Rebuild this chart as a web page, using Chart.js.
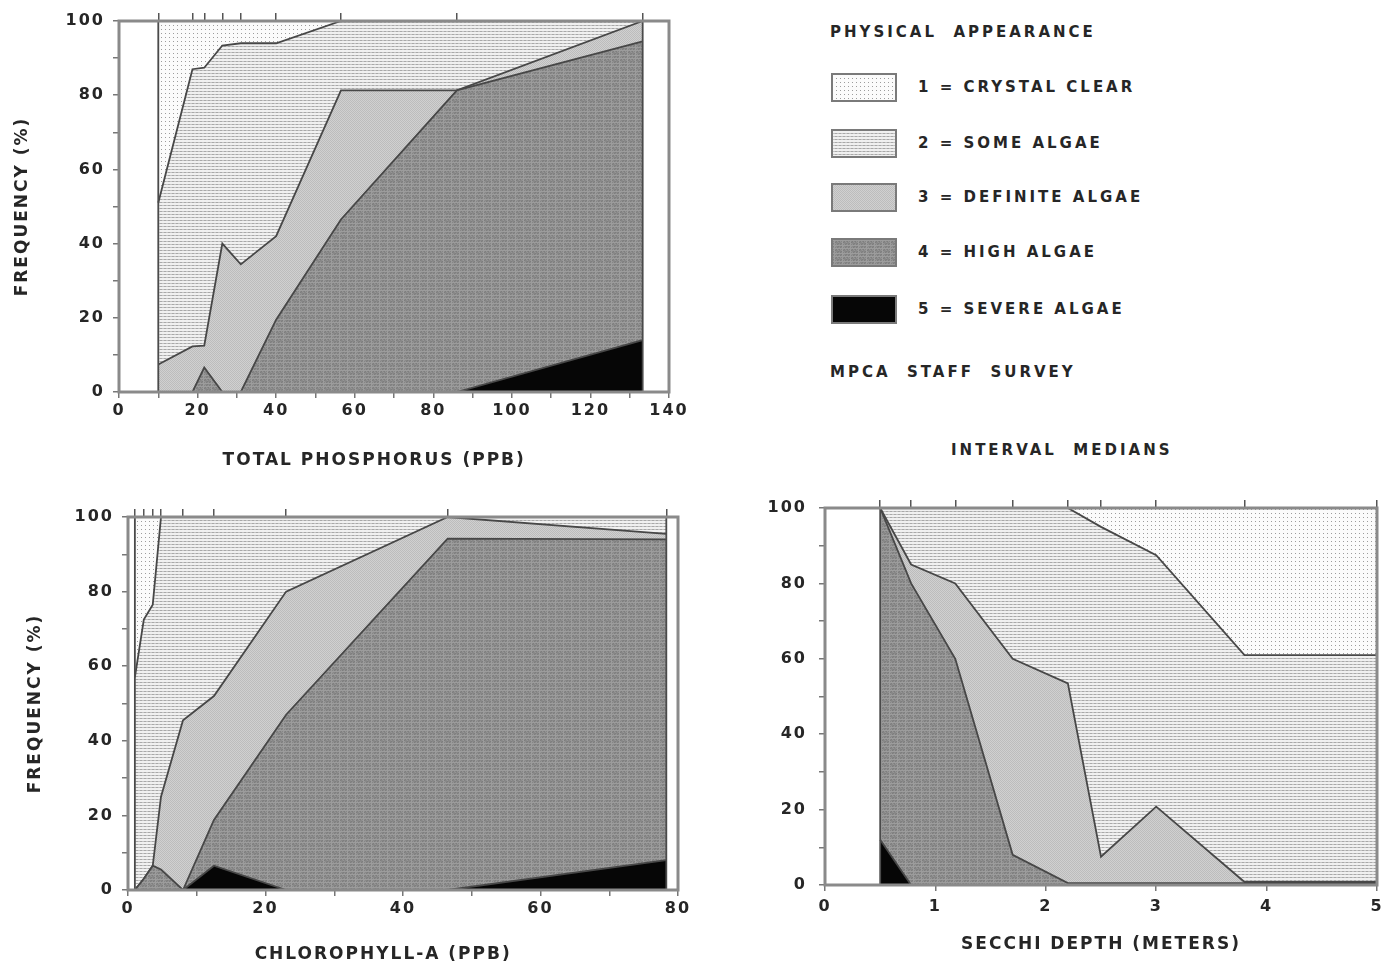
<!DOCTYPE html>
<html>
<head>
<meta charset="utf-8">
<title>Physical appearance vs. lake measurements</title>
<script src="https://cdn.jsdelivr.net/npm/chart.js@4.4.1/dist/chart.umd.min.js"></script>
<style>
    body { margin: 0; width: 1381px; height: 966px; overflow: hidden; position: relative; background: #fff;
           font-family: "DejaVu Sans", sans-serif; font-weight: bold; color: #262626; }
    canvas.plot { position: absolute; }
    .txt { position: absolute; white-space: pre; font-size: 15px; line-height: 18px; letter-spacing: 3px; }
    canvas.sw { position: absolute; }
</style>
</head>
<body>
<canvas id="tp-chart" class="plot" width="700" height="480" style="left:0;top:0"></canvas>
<canvas id="chl-chart" class="plot" width="700" height="486" style="left:0;top:480px"></canvas>
<canvas id="sd-chart" class="plot" width="631" height="486" style="left:750px;top:480px"></canvas>

<div class="txt" style="left:830px;top:23px">PHYSICAL  APPEARANCE</div>
<div id="legend"></div>
<div class="txt" style="left:830px;top:363px">MPCA  STAFF  SURVEY</div>
<div class="txt" style="left:951px;top:441px">INTERVAL  MEDIANS</div>

<script>
// legend labels
var classLabels = ['1 = CRYSTAL CLEAR', '2 = SOME ALGAE', '3 = DEFINITE ALGAE', '4 = HIGH ALGAE', '5 = SEVERE ALGAE'];

// total phosphorus (ppb): interval medians, cumulative frequency (%) of classes n..5
var tpX        = [10, 18.7, 21.7, 26.3, 31, 40, 56.5, 86, 133.3];
var tpClear    = [100, 100, 100, 100, 100, 100, 100, 100, 100];
var tpSome     = [51, 87, 87.4, 93.4, 94, 94, 100, 100, 100];
var tpDefinite = [7.4, 12.3, 12.5, 40, 34.4, 42, 81.3, 81.3, 100];
var tpHigh     = [0, 0, 6.6, 0, 0, 19.5, 46.5, 81.3, 94.5];
var tpSevere   = [0, 0, 0, 0, 0, 0, 0, 0, 14];

// chlorophyll-a (ppb)
var chlX        = [1.0, 2.3, 3.6, 4.8, 8, 12.5, 23, 46.5, 78.3];
var chlClear    = [100, 100, 100, 100, 100, 100, 100, 100, 100];
var chlSome     = [57, 72.5, 76.5, 100, 100, 100, 100, 100, 100];
var chlDefinite = [0, 3, 6.5, 25, 45.5, 52, 80, 100, 95.5];
var chlHigh     = [0, 3, 6.5, 5.5, 0, 18.8, 47, 94.2, 94];
var chlSevere   = [0, 0, 0, 0, 0, 6.5, 0, 0, 8];

// secchi depth (meters)
var sdX        = [0.5, 0.78, 1.18, 1.7, 2.2, 2.5, 3.0, 3.8, 5.0];
var sdClear    = [100, 100, 100, 100, 100, 100, 100, 100, 100];
var sdSome     = [100, 100, 100, 100, 100, 95, 87.5, 61, 61];
var sdDefinite = [100, 85, 80, 60, 53.5, 7.5, 20.8, 0.8, 0.8];
var sdHigh     = [100, 80, 60, 8, 0.5, 0.5, 0.5, 0.5, 0.5];
var sdSevere   = [12, 0, 0, 0, 0, 0, 0, 0, 0];

// axis ticks
var freqTicks = [0, 20, 40, 60, 80, 100];
var tpTicks   = [0, 20, 40, 60, 80, 100, 120, 140];
var chlTicks  = [0, 20, 40, 60, 80];
var sdTicks   = [0, 1, 2, 3, 4, 5];

Chart.defaults.font.family = '"DejaVu Sans", sans-serif';
Chart.defaults.font.weight = 'bold';
Chart.defaults.font.size = 16;
Chart.defaults.color = '#262626';

// fill textures, one small tile per class
function makeTile(w, h, paint) {
    var c = document.createElement('canvas');
    c.width = w;
    c.height = h;
    paint(c.getContext('2d'));
    return c;
}

var tiles = [
    makeTile(4, 4, function(g) {
        g.fillStyle = '#fbfbfb'; g.fillRect(0, 0, 4, 4);
        g.fillStyle = '#9c9c9c'; g.fillRect(1, 1, 1, 1);
    }),
    makeTile(4, 3, function(g) {
        g.fillStyle = '#f0f0f0'; g.fillRect(0, 0, 4, 3);
        g.fillStyle = '#a8a8a8'; g.fillRect(0, 1, 2, 1);
        g.fillStyle = '#c4c4c4'; g.fillRect(2, 1, 2, 1);
    }),
    makeTile(2, 2, function(g) {
        g.fillStyle = '#d0d0d0'; g.fillRect(0, 0, 2, 2);
        g.fillStyle = '#bcbcbc'; g.fillRect(0, 0, 1, 1); g.fillRect(1, 1, 1, 1);
    }),
    makeTile(8, 8, function(g) {
        var shades = ['#8a8a8a', '#7e7e7e', '#959595', '#868686', '#9c9c9c'];
        for (var i = 0; i < 8; i++) {
            for (var j = 0; j < 8; j++) {
                g.fillStyle = shades[(i * 3 + j * 7 + i * j) % 5];
                g.fillRect(i, j, 1, 1);
            }
        }
    }),
    makeTile(2, 2, function(g) {
        g.fillStyle = '#060606'; g.fillRect(0, 0, 2, 2);
    })
];

function fillFor(ctx, k) {
    return ctx.createPattern(tiles[k], 'repeat');
}

// legend swatches
var legendTop = [73, 129, 183, 238, 295];
(function() {
    var box = document.getElementById('legend');
    classLabels.forEach(function(label, k) {
        var sw = document.createElement('canvas');
        sw.className = 'sw';
        sw.width = 66;
        sw.height = 29;
        sw.style.left = '831px';
        sw.style.top = legendTop[k] + 'px';
        var g = sw.getContext('2d');
        g.fillStyle = fillFor(g, k);
        g.fillRect(0, 0, 66, 29);
        g.strokeStyle = '#7a7a7a';
        g.lineWidth = 2;
        g.strokeRect(1, 1, 64, 27);
        box.appendChild(sw);

        var t = document.createElement('div');
        t.className = 'txt';
        t.style.left = '918px';
        t.style.top = (legendTop[k] + 5) + 'px';
        t.textContent = label;
        box.appendChild(t);
    });
})();

// plot frame plus the vertical edges of the filled region
var framePlugin = {
    id: 'frame',
    beforeUpdate: function(chart) { chart.ctx.letterSpacing = '2px'; },
    beforeDraw: function(chart) { chart.ctx.letterSpacing = '2px'; },
    afterDatasetsDraw: function(chart, args, opts) {
        var a = chart.chartArea, ctx = chart.ctx;
        var xs = opts.xs;
        ctx.save();
        ctx.strokeStyle = '#4a4a4a';
        ctx.lineWidth = 1.8;
        [xs[0], xs[xs.length - 1]].forEach(function(v) {
            var px = chart.scales.x.getPixelForValue(v);
            ctx.beginPath();
            ctx.moveTo(px, chart.scales.y.getPixelForValue(0));
            ctx.lineTo(px, chart.scales.y.getPixelForValue(100));
            ctx.stroke();
        });
        ctx.strokeStyle = '#8a8a8a';
        ctx.lineWidth = 3;
        ctx.strokeRect(a.left, a.top, a.right - a.left, a.bottom - a.top);
        ctx.restore();
    }
};

function areaSet(ctx, xs, ys, k) {
    return {
        label: classLabels[k],
        data: xs.map(function(x, i) { return { x: x, y: ys[i] }; }),
        backgroundColor: fillFor(ctx, k),
        borderColor: '#474747',
        borderWidth: 1.8,
        pointRadius: 0,
        tension: 0,
        fill: 'origin'
    };
}

function makeChart(id, cfg) {
    var ctx = document.getElementById(id).getContext('2d');
    var xs = cfg.xs;
    // index 0 is drawn last, so the lowest cumulative curve sits on top
    var datasets = [
        areaSet(ctx, xs, cfg.series[4], 4),
        areaSet(ctx, xs, cfg.series[3], 3),
        areaSet(ctx, xs, cfg.series[2], 2),
        areaSet(ctx, xs, cfg.series[1], 1),
        areaSet(ctx, xs, cfg.series[0], 0)
    ];

    return new Chart(ctx, {
        type: 'line',
        data: { datasets: datasets },
        plugins: [framePlugin],
        options: {
            responsive: false,
            animation: false,
            events: [],
            layout: { padding: { left: 0, top: 0, right: cfg.padRight, bottom: 0 } },
            plugins: {
                legend: { display: false },
                tooltip: { enabled: false },
                frame: { xs: xs }
            },
            scales: {
                x: {
                    type: 'linear',
                    position: 'bottom',
                    min: 0,
                    max: cfg.xTicks[cfg.xTicks.length - 1],
                    afterBuildTicks: function(axis) {
                        var t = [];
                        for (var v = 0; v <= axis.max + 1e-9; v += cfg.xMinor) {
                            t.push({ value: Math.round(v * 100) / 100 });
                        }
                        axis.ticks = t;
                    },
                    ticks: {
                        padding: cfg.xPad,
                        maxRotation: 0,
                        autoSkip: false,
                        callback: function(v) { return cfg.xTicks.indexOf(v) >= 0 ? String(v) : ''; }
                    },
                    grid: { drawOnChartArea: false, tickLength: 6, color: '#777', lineWidth: 1.5 },
                    border: { display: false },
                    title: {
                        display: true,
                        text: cfg.xTitle,
                        font: { size: 17, weight: 'bold' },
                        padding: { top: 0, bottom: cfg.xTitlePad }
                    },
                    afterFit: function(s) { s.height = cfg.bottom; s.paddingLeft = 0; s.paddingRight = 0; }
                },
                x2: {
                    type: 'linear',
                    position: 'top',
                    min: 0,
                    max: cfg.xTicks[cfg.xTicks.length - 1],
                    afterBuildTicks: function(axis) {
                        axis.ticks = xs.map(function(v) { return { value: v }; });
                    },
                    ticks: { display: false },
                    grid: { drawOnChartArea: false, tickLength: 8, color: '#555', lineWidth: 1.5 },
                    border: { display: false },
                    afterFit: function(s) { s.height = cfg.top; s.paddingLeft = 0; s.paddingRight = 0; }
                },
                y: {
                    type: 'linear',
                    min: 0,
                    max: 100,
                    afterBuildTicks: function(axis) {
                        var t = [];
                        for (var v = 0; v <= 100; v += 10) t.push({ value: v });
                        axis.ticks = t;
                    },
                    ticks: {
                        padding: cfg.yPad,
                        callback: function(v) { return freqTicks.indexOf(v) >= 0 ? String(v) : ''; }
                    },
                    grid: { drawOnChartArea: false, tickLength: 6, color: '#777', lineWidth: 1.5 },
                    border: { display: false },
                    title: {
                        display: !!cfg.yTitle,
                        text: cfg.yTitle || '',
                        font: { size: 17, weight: 'bold' },
                        padding: { top: cfg.yTitlePad, bottom: 0 }
                    },
                    afterFit: function(s) { s.width = cfg.left; s.paddingTop = 0; s.paddingBottom = 0; }
                }
            }
        }
    });
}

// trailing spaces pull the centred x titles a little to the left, as on the original sheet
makeChart('tp-chart', {
    xs: tpX,
    series: [tpClear, tpSome, tpDefinite, tpHigh, tpSevere],
    xTicks: tpTicks, xMinor: 10,
    xTitle: 'TOTAL PHOSPHORUS (PPB)     ', yTitle: 'FREQUENCY (%)',
    left: 119, top: 21, bottom: 88, padRight: 31,
    xPad: 3, yPad: 8, xTitlePad: 9, yTitlePad: 12
});

makeChart('chl-chart', {
    xs: chlX,
    series: [chlClear, chlSome, chlDefinite, chlHigh, chlSevere],
    xTicks: chlTicks, xMinor: 10,
    xTitle: 'CHLOROPHYLL-A (PPB)     ', yTitle: 'FREQUENCY (%)',
    left: 128, top: 37, bottom: 76, padRight: 22,
    xPad: 3, yPad: 8, xTitlePad: 1, yTitlePad: 25
});

makeChart('sd-chart', {
    xs: sdX,
    series: [sdClear, sdSome, sdDefinite, sdHigh, sdSevere],
    xTicks: sdTicks, xMinor: 1,
    xTitle: 'SECCHI DEPTH (METERS)', yTitle: null,
    left: 75, top: 28, bottom: 81, padRight: 4,
    xPad: 6, yPad: 12, xTitlePad: 11, yTitlePad: 0
});
</script>
</body>
</html>
